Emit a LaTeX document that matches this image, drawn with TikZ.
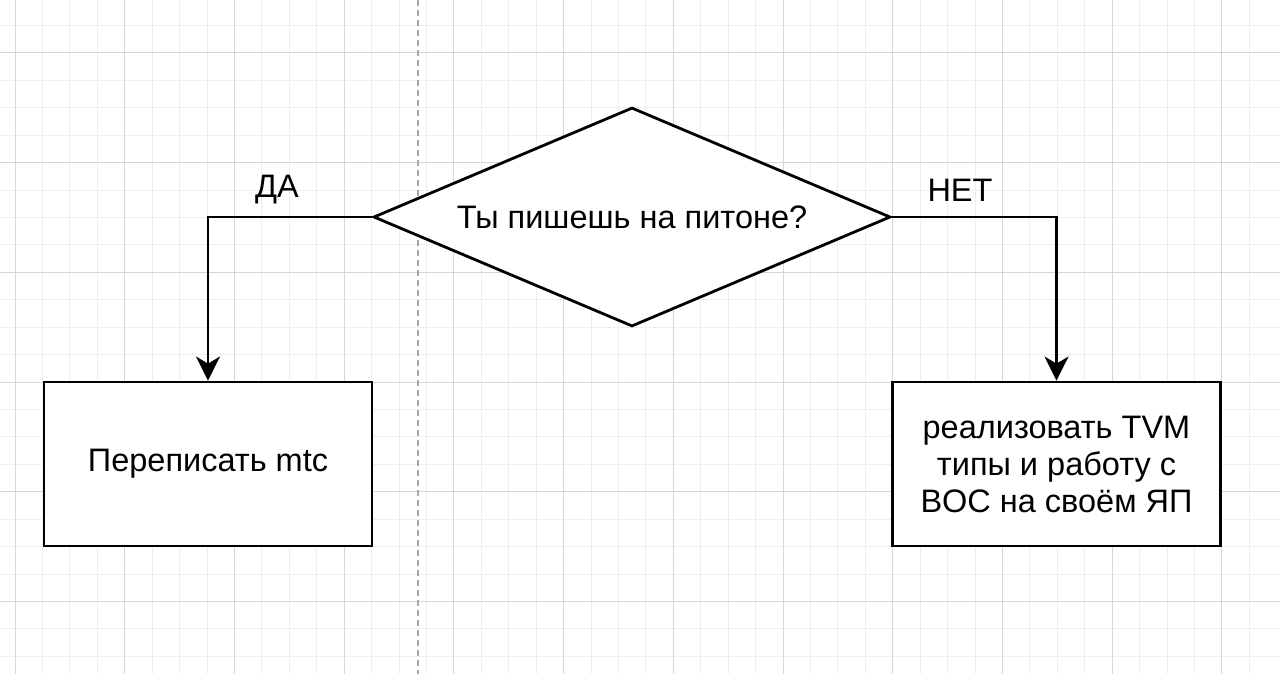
\documentclass[tikz,border=0pt]{standalone}
\usepackage{fontspec}
\setmainfont{Liberation Sans}
\usetikzlibrary{shapes.geometric,arrows.meta}
\definecolor{gridminor}{HTML}{EEEEEE}
\definecolor{gridmajor}{HTML}{D6D6D6}
\begin{document}
\begin{tikzpicture}[x=1pt,y=-1pt,
  box/.style={draw=black,line width=2.8pt,fill=white,minimum width=328pt,minimum height=164pt,inner sep=0pt,align=center,font=\fontsize{32.5}{37}\selectfont},
  decision/.style={draw=black,line width=2.8pt,fill=white,diamond,aspect=2.37,minimum width=517pt,minimum height=219pt,inner sep=0pt,font=\fontsize{32.5}{37}\selectfont},
  flow/.style={line width=2.8pt,-{Stealth[length=24pt,width=24pt,inset=7pt]}},
  lbl/.style={font=\fontsize{32.5}{37}\selectfont,inner sep=0pt}
]
\useasboundingbox (0,0) rectangle (1280,674);
\fill[white] (0,0) rectangle (1280,674);
% minor grid
\foreach \i in {0,...,46} {
  \draw[gridminor,line width=1pt] ({15-27.43+27.43*\i},0) -- ({15-27.43+27.43*\i},674);
}
\foreach \j in {0,...,25} {
  \draw[gridminor,line width=1pt] (0,{-1.9+27.43*\j}) -- (1280,{-1.9+27.43*\j});
}
% major grid
\foreach \i in {0,...,11} {
  \draw[gridmajor,line width=1pt] ({15+109.72*\i},0) -- ({15+109.72*\i},674);
}
\foreach \j in {0,...,5} {
  \draw[gridmajor,line width=1pt] (0,{53+109.72*\j}) -- (1280,{53+109.72*\j});
}
% page break line
\draw[gray!70,line width=1.2pt,dash pattern=on 6pt off 4pt] (418,0) -- (418,674);

\node[decision] (q) at (632,217) {Ты пишешь на питоне?};
\node[box] (yes) at (208,464) {Переписать mtc};
\node[box] (no) at (1056.5,464) {реализовать TVM\\типы и работу с\\BOC на своём ЯП};

\draw[flow] (q.west) -| (yes.north);
\draw[flow] (q.east) -| (no.north);

\node[lbl] (da) at (277,190) {ДА};
\node[lbl] (net) at (960,190) {НЕТ};
\end{tikzpicture}
\end{document}
